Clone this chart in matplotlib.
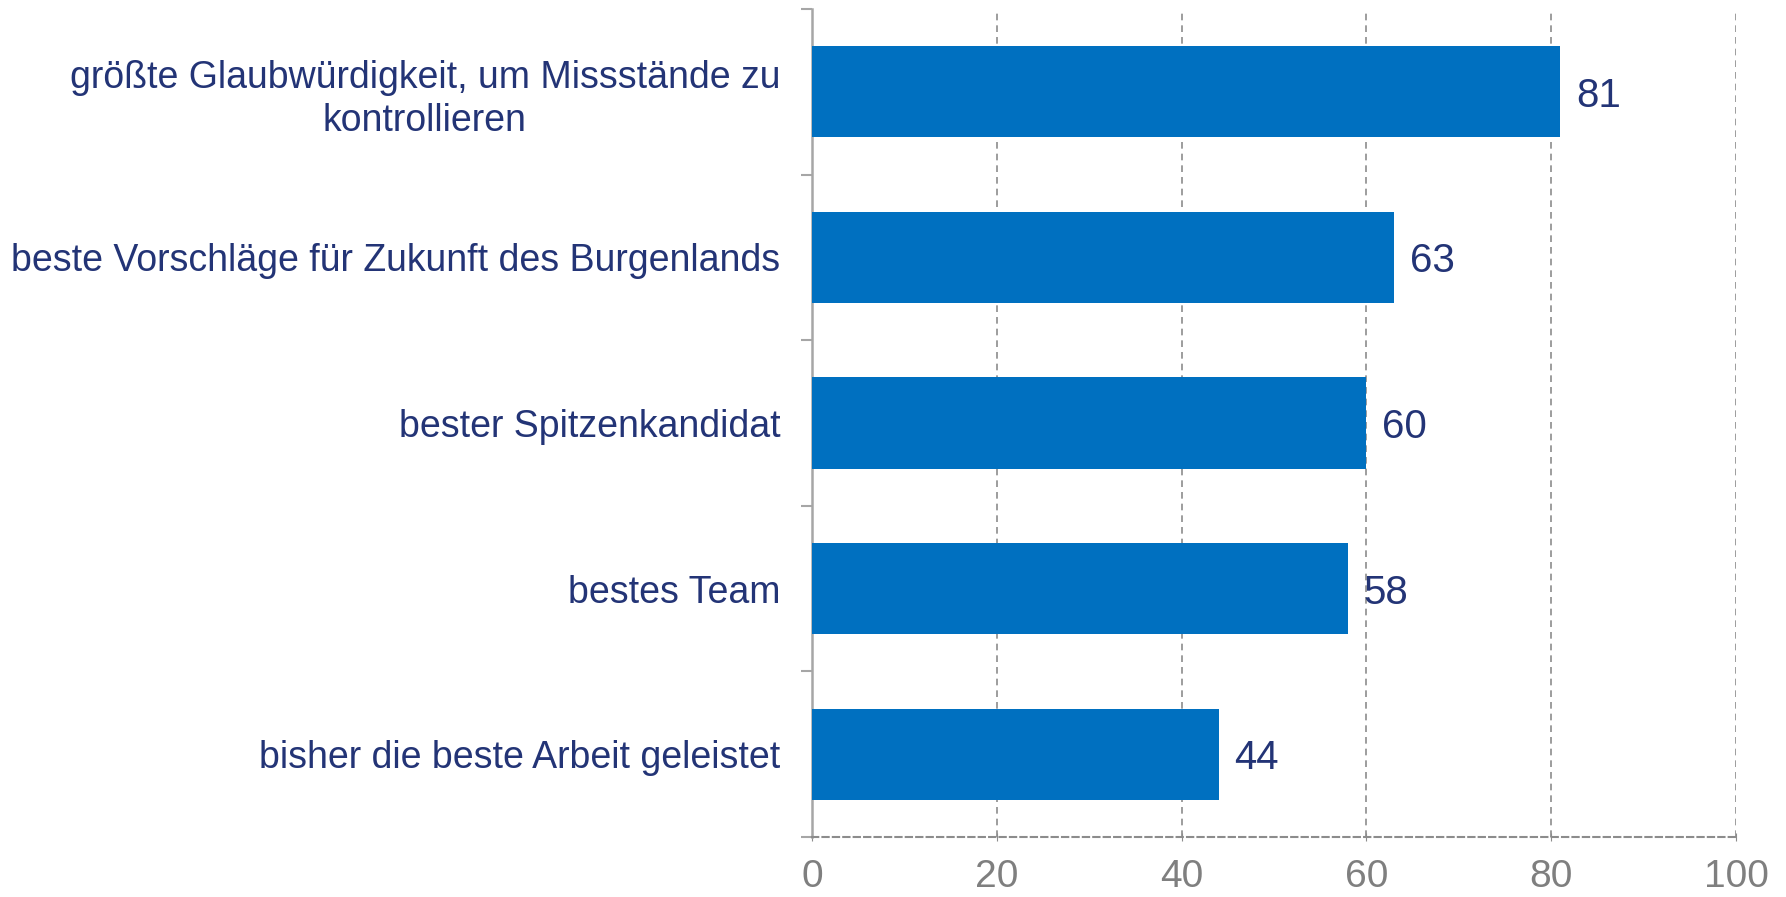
import matplotlib.pyplot as plt

plt.rcParams['font.family'] = ['Liberation Sans', 'DejaVu Sans']

# Daten
kategorien = [
    'größte Glaubwürdigkeit, um Missstände zu\nkontrollieren',
    'beste Vorschläge für Zukunft des Burgenlands',
    'bester Spitzenkandidat',
    'bestes Team',
    'bisher die beste Arbeit geleistet',
]
werte = [81, 63, 60, 58, 44]
x_ticks = [0, 20, 40, 60, 80, 100]

bar_color = '#0070C0'
text_color = '#233476'
grid_color = '#8C8C8C'

fig = plt.figure(figsize=(17.86, 8.97), dpi=100)
ax = fig.add_axes([0.4547, 0.0669, 0.5173, 0.9231])

pos = list(range(len(kategorien)))
ax.barh(pos, werte, height=0.55, color=bar_color, zorder=3)

for p, v in zip(pos, werte):
    ax.text(v + 1.7, p, str(v), va='center_baseline', ha='left',
            fontsize=29, color=text_color, zorder=4)

ax.set_ylim(len(kategorien) - 0.5, -0.5)
ax.set_xlim(0, 100)

# Kategoriebeschriftungen
ax.set_yticks(pos)
ax.set_yticklabels(kategorien, fontsize=27, color=text_color,
                   multialignment='center', linespacing=1.25)
ax.tick_params(axis='y', which='major', length=0, pad=23)
# kleine Trennstriche zwischen den Kategorien
ax.set_yticks([i - 0.5 for i in range(len(kategorien) + 1)], minor=True)
ax.tick_params(axis='y', which='minor', length=8, color='#A6A6A6', width=1.5)

ax.set_xticks(x_ticks)
ax.tick_params(axis='x', length=6, direction='inout', color=grid_color,
               labelsize=28, labelcolor='#7F7F7F', pad=13)

ax.grid(axis='x', linestyle=(0, (4, 3)), color=grid_color, linewidth=1.2, zorder=0)

for s in ['top', 'right']:
    ax.spines[s].set_visible(False)
ax.spines['left'].set_color('#A6A6A6')
ax.spines['left'].set_linewidth(1.8)
ax.spines['bottom'].set_color(grid_color)
ax.spines['bottom'].set_linestyle((0, (3, 2)))
ax.spines['bottom'].set_linewidth(1.5)

plt.savefig('out.png', dpi=100)
